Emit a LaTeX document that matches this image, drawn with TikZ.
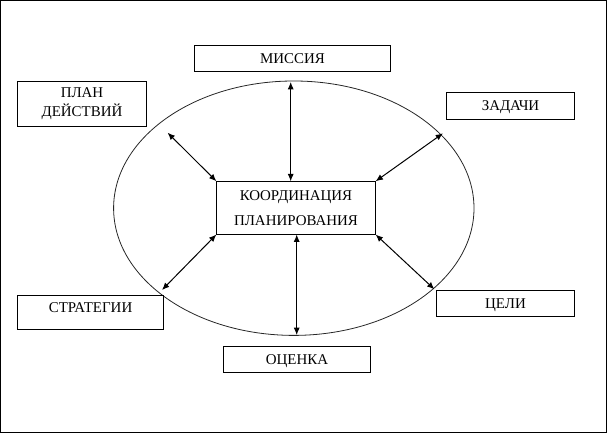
\documentclass[tikz,border=0pt]{standalone}
\usepackage{fontspec}
\setmainfont{Liberation Serif}
\usetikzlibrary{arrows.meta}
\usetikzlibrary{positioning}
\usetikzlibrary{shapes.geometric}

\begin{document}
\begin{tikzpicture}[
            x = 0.75pt, y = -0.75pt, % one unit = one pixel
            > = {Latex[length=5.5pt, width=4.6pt]}, % arrow head style
            line width = 0.75pt, % thin lines everywhere
            font = \fontsize{11.2pt}{14.25pt}\selectfont
        ]

        \tikzstyle{block}=[
            draw,
            rectangle,
            inner sep = 0pt,
            align = center
        ]
        \tikzstyle{oneline}=[
            text height = 7.5pt,
            text depth = 0pt
        ]

        \useasboundingbox (0,0) rectangle (607,434);
        \draw (0.5,0.5) rectangle (606,433);

	% ring
        \node[draw, ellipse, black!85, line width=0.6pt, inner sep=0pt, minimum width=270.3pt, minimum height=190.8pt] (ring) at (293.8,208.2) {};

	% centre
        \node[block, minimum width=118.7pt, minimum height=39.2pt] (coord) at (296,207.9) {КООРДИНАЦИЯ\\[4.5pt]ПЛАНИРОВАНИЯ};

	% top and bottom
        \node[block, oneline, minimum width=147pt, minimum height=19.5pt] (mission) [above=82pt of coord, xshift=-2.6pt] {МИССИЯ};
        \node[block, oneline, minimum width=109.6pt, minimum height=19pt] (estim) [below=83.8pt of coord, xshift=0.75pt] {ОЦЕНКА};

	% left side
        \node[block, minimum width=96.75pt, minimum height=33.75pt] (plan) at (82,103.8) {ПЛАН\\ДЕЙСТВИЙ};
        \node[block, oneline, text depth=7pt, minimum width=109.6pt, minimum height=25.7pt] (strat) at (90.6,312.2) {СТРАТЕГИИ};

	% right side
        \node[block, oneline, minimum width=96pt, minimum height=20pt] (tasks) at (510.5,106) {ЗАДАЧИ};
        \node[block, oneline, minimum width=103.5pt, minimum height=19.7pt] (goals) at (505.5,303.8) {ЦЕЛИ};

	% arrow ends on the ring
        \coordinate (pMission) at (290.7,82);
        \coordinate (pEstim) at (296.7,335);
        \coordinate (pPlan) at (167.6,132.7);
        \coordinate (pTasks) at (443,133.3);
        \coordinate (pStrat) at (162,290);
        \coordinate (pGoals) at (434.4,289.3);

        \path[<->] (pMission) edge (coord.north -| pMission);
        \path[<->] (pEstim) edge (coord.south -| pEstim);
        \path[<->] (pPlan) edge (coord.north west);
        \path[<->] (pTasks) edge (coord.north east);
        \path[<->] (pStrat) edge (coord.south west);
        \path[<->] (pGoals) edge (coord.south east);

  \end{tikzpicture}
\end{document}
